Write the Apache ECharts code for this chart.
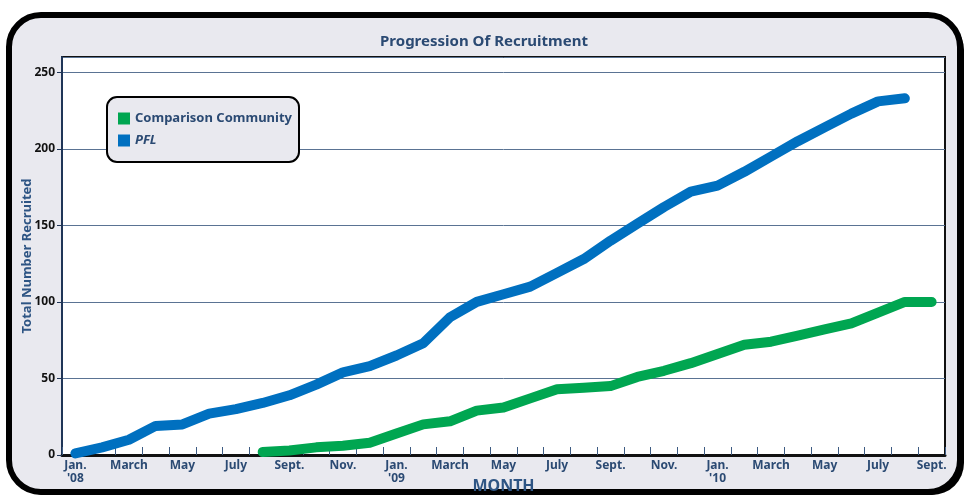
<!DOCTYPE html>
<html>
<head>
<meta charset="utf-8">
<title>Progression Of Recruitment</title>
<script src="https://cdn.jsdelivr.net/npm/echarts@6/dist/echarts.min.js"></script>
<style>
  html, body { margin: 0; padding: 0; background: #fff; }
  #chart { width: 968px; height: 500px; }
</style>
</head>
<body>
<div id="chart"></div>
<script>
// months Jan '08 .. Sept '10
var months = [
  "Jan.\n'08", 'Feb', 'March', 'April', 'May', 'June', 'July', 'Aug', 'Sept.', 'Oct', 'Nov.', 'Dec',
  "Jan.\n'09", 'Feb', 'March', 'April', 'May', 'June', 'July', 'Aug', 'Sept.', 'Oct', 'Nov.', 'Dec',
  "Jan.\n'10", 'Feb', 'March', 'April', 'May', 'June', 'July', 'Aug', 'Sept.'
];

var pfl = [
  1, 5, 10, 19, 20, 27, 30, 34, 39, 46, 54, 58,
  65, 73, 90, 100, 105, 110, 119, 128, 140, 151, 162, 172,
  176, 185, 195, 205, 214, 223, 231, 233, null
];

var comparison = [
  null, null, null, null, null, null, null, 2, 3, 5, 6, 8,
  14, 20, 22, 29, 31, 37, 43, 44, 45, 51, 55, 60,
  66, 72, 74, 78, 82, 86, 93, 100, 100
];

var navy = '#2b4a73';
var font = 'Noto Sans';

var chart = echarts.init(document.getElementById('chart'));
chart.setOption({
  backgroundColor: '#fff',
  textStyle: { fontFamily: font },
  graphic: [
    // panel shadow + frame
    { type: 'rect', z: -2, shape: { x: 13, y: 18, width: 951, height: 477, r: 32 }, style: { fill: '#000' } },
    { type: 'rect', z: -1, shape: { x: 9, y: 15, width: 951, height: 477, r: 32 },
      style: { fill: '#e9e9ef', stroke: '#000', lineWidth: 6 } }
  ],
  title: {
    text: 'Progression Of Recruitment',
    left: 'center',
    top: 29,
    textStyle: { color: navy, fontSize: 15, fontWeight: 'bold', fontFamily: font }
  },
  legend: {
    orient: 'vertical',
    left: 107,
    top: 97,
    padding: [15, 7, 15, 11],
    itemGap: 9,
    itemWidth: 12,
    itemHeight: 12,
    icon: 'rect',
    backgroundColor: '#e9e9ef',
    borderColor: '#000',
    borderWidth: 2,
    borderRadius: 10,
    data: ['Comparison Community', 'PFL'],
    formatter: function (name) {
      return name === 'PFL' ? '{i|' + name + '}' : '{b|' + name + '}';
    },
    textStyle: {
      rich: {
        b: { color: navy, fontSize: 13, fontWeight: 'bold', fontFamily: font },
        i: { color: navy, fontSize: 13, fontWeight: 'bold', fontStyle: 'italic', fontFamily: font }
      }
    }
  },
  grid: {
    left: 62, top: 57, right: 23, bottom: 45,
    outerBoundsMode: 'none',
    containLabel: false,
    show: true,
    backgroundColor: '#fff',
    borderColor: '#111',
    borderWidth: 2
  },
  xAxis: {
    type: 'category',
    data: months,
    boundaryGap: true,
    name: 'MONTH',
    nameLocation: 'middle',
    nameMoveOverlap: false,
    nameGap: 23,
    nameTextStyle: { color: '#2e5584', fontSize: 16, fontWeight: 'bold', fontFamily: font },
    axisLine: { lineStyle: { color: '#111', width: 3 } },
    axisTick: { show: true, inside: true, length: 8, interval: 0, lineStyle: { color: '#3d5b82', width: 1 } },
    axisLabel: {
      interval: 1,
      margin: 4,
      color: navy,
      fontSize: 12,
      fontWeight: 'bold',
      lineHeight: 13,
      fontFamily: font
    },
    splitLine: { show: false }
  },
  yAxis: {
    type: 'value',
    min: 0,
    max: 260,
    interval: 50,
    name: 'Total Number Recruited',
    nameLocation: 'middle',
    nameMoveOverlap: false,
    nameGap: 28,
    nameTextStyle: { color: '#2e5584', fontSize: 13, fontWeight: 'bold', fontFamily: font },
    axisLine: { show: true, lineStyle: { color: '#1f3557', width: 2 } },
    axisTick: { show: true, length: 5, lineStyle: { color: '#1f3557', width: 1 } },
    axisLabel: {
      showMaxLabel: false,
      margin: 7,
      color: '#111',
      fontSize: 12,
      fontWeight: 'bold',
      fontFamily: font
    },
    splitLine: { show: true, lineStyle: { color: '#5a7393', width: 1 } }
  },
  series: [
    {
      name: 'Comparison Community',
      type: 'line',
      data: comparison,
      symbol: 'none',
      color: '#00a651',
      lineStyle: { color: '#00a651', width: 10, cap: 'round', join: 'round' }
    },
    {
      name: 'PFL',
      type: 'line',
      data: pfl,
      symbol: 'none',
      color: '#0070c0',
      lineStyle: { color: '#0070c0', width: 10, cap: 'round', join: 'round' }
    }
  ]
});
</script>
</body>
</html>
